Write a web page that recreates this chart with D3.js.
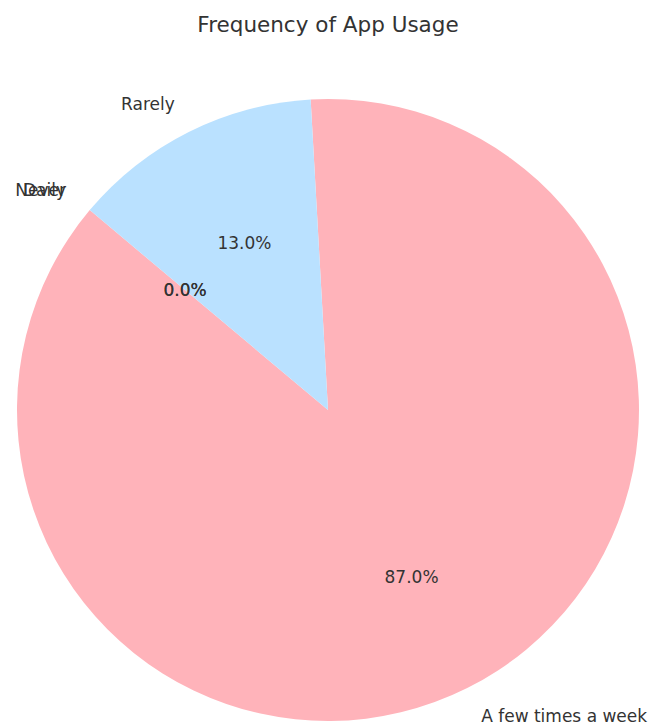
<!DOCTYPE html>
<html>
<head>
<meta charset="utf-8">
<script src="https://cdn.jsdelivr.net/npm/d3@7"></script>
<style>
  body { margin: 0; background: #fff; }
  text { font-family: "DejaVu Sans", sans-serif; fill: #333; }
</style>
</head>
<body>
<div id="chart"></div>
<script>
// data, in the order the slices are laid out (counter-clockwise from 140deg)
var labels = ["Daily", "Never", "A few times a week", "Rarely"],
    values = [0, 0, 87, 13],
    colors = ["#ffdfba", "#baffc9", "#ffb3ba", "#bae1ff"];

var width  = 660,
    height = 723,
    cx = 328,
    cy = 410,
    radius = 311;

var svg = d3.select("#chart").append("svg")
    .attr("width", width)
    .attr("height", height);

svg.append("text")
    .attr("x", cx)
    .attr("y", 24)
    .attr("text-anchor", "middle")
    .attr("dominant-baseline", "central")
    .attr("font-size", 21.5)
    .text("Frequency of App Usage");

// matplotlib startangle=140, counter-clockwise -> d3 angles (clockwise from 12 o'clock)
var start = (90 - 140) * Math.PI / 180;
var pie = d3.pie()
    .sort(null)
    .startAngle(start)
    .endAngle(start - 2 * Math.PI);

var arcs = pie(values);
var arc = d3.arc().innerRadius(0).outerRadius(radius);

var g = svg.append("g").attr("transform", "translate(" + cx + "," + cy + ")");

g.selectAll("path")
    .data(arcs).enter()
    .append("path")
    .attr("d", arc)
    .attr("fill", (d, i) => colors[i]);

function pos(d, f){
    var a = (d.startAngle + d.endAngle) / 2;
    return [Math.sin(a) * radius * f, -Math.cos(a) * radius * f];
}

var total = d3.sum(values);

// outside labels
g.selectAll(".lbl")
    .data(arcs).enter()
    .append("text")
    .attr("class", "lbl")
    .attr("font-size", 17)
    .attr("dominant-baseline", "central")
    .attr("text-anchor", d => pos(d, 1.1)[0] > 0 ? "start" : "end")
    .attr("x", d => pos(d, 1.1)[0])
    .attr("y", d => pos(d, 1.1)[1])
    .text((d, i) => labels[i]);

// percentages
g.selectAll(".pct")
    .data(arcs).enter()
    .append("text")
    .attr("class", "pct")
    .attr("font-size", 17)
    .attr("dominant-baseline", "central")
    .attr("text-anchor", "middle")
    .attr("x", d => pos(d, 0.6)[0])
    .attr("y", d => pos(d, 0.6)[1])
    .text(d => (d.value / total * 100).toFixed(1) + "%");
</script>
</body>
</html>
